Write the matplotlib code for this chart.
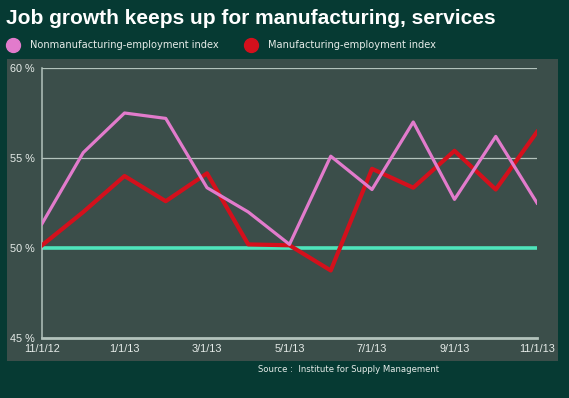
import matplotlib
matplotlib.use("Agg")
import matplotlib.pyplot as plt
from matplotlib.patches import Rectangle
from matplotlib.lines import Line2D

months = ["11/1/12", "12/1/12", "1/1/13", "2/1/13", "3/1/13", "4/1/13", "5/1/13",
          "6/1/13", "7/1/13", "8/1/13", "9/1/13", "10/1/13", "11/1/13"]
nonmanufacturing = [51.35, 55.3, 57.5, 57.2, 53.35, 52.0, 50.2, 55.1, 53.25, 57.0, 52.7, 56.2, 52.5]
manufacturing = [50.15, 52.0, 54.0, 52.6, 54.15, 50.2, 50.15, 48.75, 54.4, 53.35, 55.4, 53.25, 56.45]
yticks = [45, 50, 55, 60]
xtick_idx = [0, 2, 4, 6, 8, 10, 12]

W, H = 569, 398
bg = "#063a33"
panel = "#3b4e4a"
light = "#b3c3bc"
pink = "#e27bcc"
red = "#d4101c"
cyan = "#4ee4bb"

fig = plt.figure(figsize=(W / 100, H / 100), dpi=100, facecolor=bg)

# lighter panel behind the plot
fig.add_artist(Rectangle((7 / W, 1 - 361 / H), (558 - 7) / W, (361 - 59) / H,
                         transform=fig.transFigure, facecolor=panel, edgecolor="none", zorder=0))

ax = fig.add_axes([42 / W, 1 - 338 / H, (537 - 42) / W, (338 - 68) / H])
ax.set_facecolor("none")
x = list(range(len(months)))

for y in [55, 60]:
    ax.axhline(y, color=light, lw=0.9, zorder=1)
ax.axhline(50, color=cyan, lw=2.6, zorder=2)

ax.plot(x, manufacturing, color=red, lw=3.0, zorder=3)
ax.plot(x, nonmanufacturing, color=pink, lw=2.3, zorder=4)

ax.set_xlim(0, 12)
ax.set_ylim(45, 60)
ax.set_yticks(yticks)
ax.set_yticklabels([f"{v} %" for v in yticks])
ax.set_xticks(xtick_idx)
ax.set_xticklabels([months[i] for i in xtick_idx])
ax.tick_params(length=0, colors="#e6ece9", labelsize=7.8, pad=4)
for lab in ax.get_xticklabels() + ax.get_yticklabels():
    lab.set_family("Liberation Sans")
ax.tick_params(axis="y", pad=5)

for s in ["top", "right"]:
    ax.spines[s].set_visible(False)
ax.spines["left"].set_color(light)
ax.spines["left"].set_linewidth(1.1)
ax.spines["bottom"].set_color(light)
ax.spines["bottom"].set_linewidth(2)

fig.text(6 / W, 1 - 19 / H, "Job growth keeps up for manufacturing, services",
         color="white", fontsize=15, fontweight="bold", family="Liberation Sans", va="center")

# legend
legend_items = [(13, 30, pink, "Nonmanufacturing-employment index"),
                (251, 268, red, "Manufacturing-employment index")]
for mx, tx, c, label in legend_items:
    fig.add_artist(Line2D([mx / W], [1 - 45 / H], transform=fig.transFigure,
                          marker="o", markersize=10, color=c, lw=0))
    fig.text(tx / W, 1 - 45 / H, label, color="#e6ece9", fontsize=7.1, va="center")

fig.text(258 / W, 1 - 370 / H, "Source :  Institute for Supply Management",
         color="#e6ece9", fontsize=6.1, va="center")

fig.savefig("out.png", dpi=100, facecolor=bg)
